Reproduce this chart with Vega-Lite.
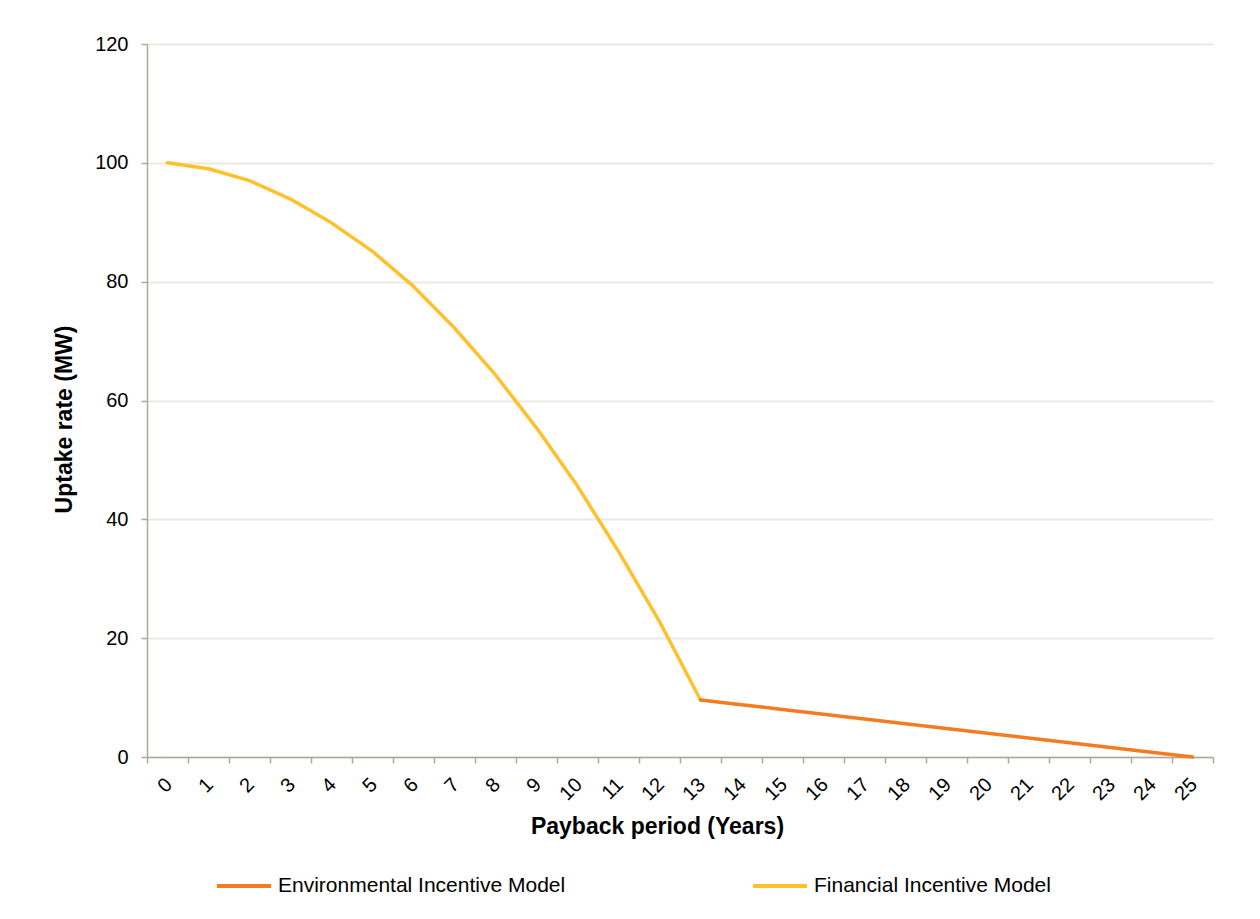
{
  "$schema": "https://vega.github.io/schema/vega-lite/v6.json",
  "width": 1066,
  "height": 713,
  "autosize": {"type": "none"},
  "padding": {"left": 147, "top": 44, "right": 47, "bottom": 162},
  "background": "#ffffff",
  "config": {
    "view": {"stroke": null},
    "font": "Liberation Sans",
    "axis": {"labelFont": "Liberation Sans", "titleFont": "Liberation Sans", "labelColor": "#000000", "titleColor": "#000000"}
  },
  "data": {
    "values": [
      {"year": 0, "value": 100, "series": "Financial Incentive Model"},
      {"year": 1, "value": 99.0, "series": "Financial Incentive Model"},
      {"year": 2, "value": 97.0, "series": "Financial Incentive Model"},
      {"year": 3, "value": 93.9, "series": "Financial Incentive Model"},
      {"year": 4, "value": 89.9, "series": "Financial Incentive Model"},
      {"year": 5, "value": 85.1, "series": "Financial Incentive Model"},
      {"year": 6, "value": 79.2, "series": "Financial Incentive Model"},
      {"year": 7, "value": 72.2, "series": "Financial Incentive Model"},
      {"year": 8, "value": 64.3, "series": "Financial Incentive Model"},
      {"year": 9, "value": 55.4, "series": "Financial Incentive Model"},
      {"year": 10, "value": 45.6, "series": "Financial Incentive Model"},
      {"year": 11, "value": 34.6, "series": "Financial Incentive Model"},
      {"year": 12, "value": 22.8, "series": "Financial Incentive Model"},
      {"year": 13, "value": 9.6, "series": "Financial Incentive Model"},
      {"year": 13, "value": 9.6, "series": "Environmental Incentive Model"},
      {"year": 14, "value": 8.8, "series": "Environmental Incentive Model"},
      {"year": 15, "value": 8.0, "series": "Environmental Incentive Model"},
      {"year": 16, "value": 7.2, "series": "Environmental Incentive Model"},
      {"year": 17, "value": 6.4, "series": "Environmental Incentive Model"},
      {"year": 18, "value": 5.6, "series": "Environmental Incentive Model"},
      {"year": 19, "value": 4.8, "series": "Environmental Incentive Model"},
      {"year": 20, "value": 4.0, "series": "Environmental Incentive Model"},
      {"year": 21, "value": 3.2, "series": "Environmental Incentive Model"},
      {"year": 22, "value": 2.4, "series": "Environmental Incentive Model"},
      {"year": 23, "value": 1.6, "series": "Environmental Incentive Model"},
      {"year": 24, "value": 0.8, "series": "Environmental Incentive Model"},
      {"year": 25, "value": 0.0, "series": "Environmental Incentive Model"}
    ]
  },
  "mark": {"type": "line", "strokeWidth": 3.5, "strokeCap": "round", "strokeJoin": "round"},
  "encoding": {
    "x": {
      "field": "year",
      "type": "ordinal",
      "bandPosition": 0.5,
      "scale": {"type": "band", "paddingInner": 0, "paddingOuter": 0, "domain": [0,1,2,3,4,5,6,7,8,9,10,11,12,13,14,15,16,17,18,19,20,21,22,23,24,25]},
      "axis": {
        "title": "Payback period (Years)",
        "titleFontSize": 23,
        "titleFontWeight": "bold",
        "titleX": 510,
        "titleY": 76,
        "titleAlign": "center",
        "titleBaseline": "alphabetic",
        "tickBand": "extent",
        "grid": false,
        "domainColor": "#B0A797",
        "domainWidth": 1.5,
        "tickColor": "#B0A797",
        "tickWidth": 1.5,
        "tickSize": 6,
        "labelAngle": -45,
        "labelFontSize": 20,
        "labelPadding": 11,
        "labelOffset": -6
      }
    },
    "y": {
      "field": "value",
      "type": "quantitative",
      "scale": {"domain": [0, 120], "nice": false, "zero": true},
      "axis": {
        "title": "Uptake rate (MW)",
        "titleFontSize": 23,
        "titleFontWeight": "bold",
        "titleAngle": -90,
        "titleX": -76,
        "titleY": 375,
        "titleAlign": "center",
        "titleBaseline": "alphabetic",
        "values": [0, 20, 40, 60, 80, 100, 120],
        "grid": true,
        "gridColor": "#ECE9E5",
        "gridWidth": 2,
        "domainColor": "#B0A797",
        "domainWidth": 1.5,
        "tickColor": "#B0A797",
        "tickWidth": 1.5,
        "tickSize": 6,
        "labelFontSize": 20,
        "labelPadding": 13
      }
    },
    "color": {
      "field": "series",
      "type": "nominal",
      "scale": {"domain": ["Environmental Incentive Model", "Financial Incentive Model"], "range": ["#F47B20", "#FFC12B"]},
      "legend": {
        "title": null,
        "orient": "none",
        "legendX": 68,
        "legendY": 813,
        "direction": "horizontal",
        "padding": 0,
        "symbolType": "stroke",
        "symbolSize": 2916,
        "symbolStrokeWidth": 4,
        "labelFont": "Liberation Sans",
        "labelFontSize": 21,
        "labelColor": "#000000",
        "labelOffset": 5,
        "labelLimit": 500,
        "columnPadding": 179
      }
    }
  }
}
